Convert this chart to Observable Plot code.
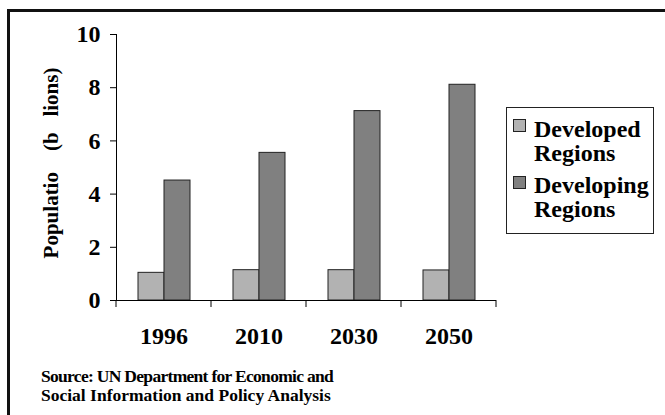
<!DOCTYPE html>
<html>
<head>
<meta charset="utf-8">
<script src="https://cdn.jsdelivr.net/npm/d3@7"></script>
<script src="https://cdn.jsdelivr.net/npm/@observablehq/plot@0.6"></script>
<style>
  html, body { margin: 0; padding: 0; background: #fff; overflow: hidden; }
  #wrap { position: relative; width: 665px; height: 415px; overflow: hidden; font-family: "Liberation Serif", "Times New Roman", serif; font-weight: bold; color: #000; }
  .fbar { position: absolute; background: #111; pointer-events: none; }
  #cover { position: absolute; left: 656px; top: 13px; width: 9px; height: 402px; background: #fff; z-index: 10; }
  #legend { position: absolute; left: 506px; top: 107px; width: 146px; height: 125px; border: 1px solid #222; background: #fff; }
  .item { position: absolute; left: 27px; font-size: 24px; line-height: 24px; white-space: nowrap; }
  .sw { position: absolute; left: 6px; width: 11px; height: 11px; border: 1px solid #222; }
  #caption { position: absolute; left: 41px; top: 367px; font-size: 17.5px; line-height: 19px; white-space: nowrap; }
  #caption .l1 { letter-spacing: -0.7px; }
</style>
</head>
<body>
<div id="wrap"></div>
<script>
// ---- data ----
const years = ["1996", "2010", "2030", "2050"];
const seriesNames = ["Developed Regions", "Developing Regions"];
const developed = [1.04, 1.14, 1.14, 1.13];
const developing = [4.51, 5.55, 7.12, 8.11];
const seriesColors = ["#b2b2b2", "#808080"];
const yDomain = [0, 10];
const yTickCount = 5;
const yLabel = "Populatio\u00a0\u00a0\u00a0\u00a0(b\u00a0\u00a0\u00a0lions)";
const captionLines = ["Source: UN Department for Economic and", "Social Information and Policy Analysis"];

const rows = [];
years.forEach((yr, i) => {
  rows.push({ year: yr, series: seriesNames[0], value: developed[i] });
  rows.push({ year: yr, series: seriesNames[1], value: developing[i] });
});

const plot = Plot.plot({
  width: 665,
  height: 415,
  marginLeft: 116,
  marginRight: 169,
  marginTop: 34,
  marginBottom: 115,
  style: { fontFamily: "'Liberation Serif', 'Times New Roman', serif", fontWeight: "bold", fontSize: "24px", color: "#000", background: "transparent" },
  fx: { domain: years, padding: 0, axis: "bottom", tickSize: 0, tickPadding: 26, label: null },
  x: { domain: seriesNames, axis: null, paddingInner: 0, paddingOuter: 0.79 },
  y: { domain: yDomain, ticks: yTickCount, line: true, tickSize: 6, tickPadding: 10, label: null, grid: false },
  color: { domain: seriesNames, range: seriesColors },
  marks: [
    Plot.barY(rows, { fx: "year", x: "series", y: "value", fill: "series", stroke: "#222", strokeWidth: 1 }),
    Plot.ruleY([0], { stroke: "#000", strokeWidth: 1 })
  ]
});

const wrap = document.getElementById("wrap");
plot.style.position = "absolute";
plot.style.left = "0px";
plot.style.top = "0px";
wrap.appendChild(plot);

// boundary ticks on the category axis, from the library's scales
const fxS = plot.scale("fx");
const yS = plot.scale("y");
const y0 = yS.apply(0);
const bounds = years.map(yr => fxS.apply(yr));
bounds.push(fxS.apply(years[years.length - 1]) + fxS.bandwidth);
const svg = d3.select(plot);
svg.append("g").selectAll("line").data(bounds).join("line")
  .attr("x1", d => d).attr("x2", d => d)
  .attr("y1", y0).attr("y2", y0 + 7)
  .attr("stroke", "#000").attr("stroke-width", 1);

// y axis title
svg.append("text")
  .attr("transform", "translate(58,163) rotate(-90)")
  .attr("text-anchor", "middle")
  .attr("font-size", 21)
  .attr("font-weight", "bold")
  .attr("fill", "#000")
  .attr("xml:space", "preserve")
  .text(yLabel);

// frame (top and left edges only)
[[7, 9, 700, 3], [7, 9, 3, 450]].forEach(([l, t, w, h]) => {
  const b = document.createElement("div");
  b.className = "fbar";
  b.style.left = l + "px"; b.style.top = t + "px";
  b.style.width = w + "px"; b.style.height = h + "px";
  wrap.appendChild(b);
});
const cover = document.createElement("div");
cover.id = "cover";
wrap.appendChild(cover);

// legend
const legend = document.createElement("div");
legend.id = "legend";
const itemTops = [9, 65];
const swTops = [11, 68];
seriesNames.forEach((name, i) => {
  const sw = document.createElement("div");
  sw.className = "sw";
  sw.style.top = swTops[i] + "px";
  sw.style.background = seriesColors[i];
  legend.appendChild(sw);
  const it = document.createElement("div");
  it.className = "item";
  it.style.top = itemTops[i] + "px";
  it.innerHTML = name.split(" ").join("<br>");
  legend.appendChild(it);
});
wrap.appendChild(legend);

// caption
const cap = document.createElement("div");
cap.id = "caption";
captionLines.forEach((line, i) => {
  const d = document.createElement("div");
  d.className = "l" + (i + 1);
  d.textContent = line;
  cap.appendChild(d);
});
wrap.appendChild(cap);
</script>
</body>
</html>
